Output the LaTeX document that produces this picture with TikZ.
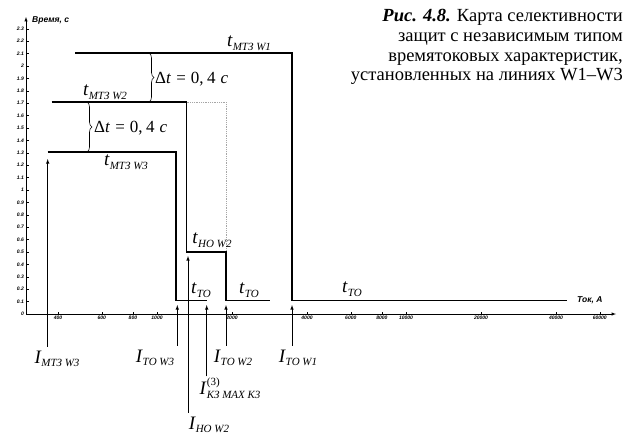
\documentclass[tikz,border=0pt]{standalone}
\usepackage{amsmath}
\usepackage{fontspec}
\setmainfont{Liberation Serif}
\setsansfont{Liberation Sans}
\usetikzlibrary{decorations.pathreplacing}

\newcommand{\sbs}[1]{\raisebox{-3.5pt}{\fontsize{11}{13}\selectfont\itshape #1}}
\newcommand{\lbl}[2]{{\fontsize{19}{22}\selectfont\itshape #1}\kern0.5pt\sbs{#2}}
\newcommand{\dtlbl}{Δ\textit{t}\hspace{0.3em}=\hspace{0.3em}0,\hspace{0.2em}4\hspace{0.3em}\textit{с}}

\begin{document}
\begin{tikzpicture}[x=1pt,y=-1pt,
  curve/.style={line width=1.1pt},
  arr/.style={-latex,line width=0.6pt},
  tick/.style={font=\sffamily\bfseries\itshape\fontsize{5}{6}\selectfont,inner sep=1pt},
  axlab/.style={font=\sffamily\bfseries\itshape\fontsize{8.5}{10}\selectfont,inner sep=0pt},
  lab/.style={inner sep=0pt},
  dt/.style={font=\fontsize{17}{19}\selectfont,inner sep=0pt,anchor=west},
  brc/.style={decorate,decoration={brace,amplitude=5pt},line width=0.6pt}]
  \useasboundingbox (0,0) rectangle (636,440);

  \draw[-latex,line width=0.5pt] (26,314) -- (616,314);
  \draw[-latex,line width=0.5pt] (26,314) -- (26,17);
  \node[axlab,anchor=west] (ylab) at (32,20) {Время, с};
  \node[axlab,anchor=west] (xlab) at (577,300) {Ток, А};
  \foreach \t [count=\i] in {0,0.1,0.2,0.3,0.4,0.5,0.6,0.7,0.8,0.9,1,1.1,1.2,1.3,1.4,1.5,1.6,1.7,1.8,1.9,2,2.1,2.2,2.3} {
    \pgfmathsetmacro\yy{314-124*\t}
    \draw[line width=0.4pt] (26,\yy) -- (28.5,\yy);
    \node[tick,anchor=east] (yt\i) at (25,\yy) {\t};
  }
  \foreach \v/\xx [count=\i] in {400/58,600/101.7,800/132.9,1000/157,2000/232,4000/307,6000/350.8,8000/381.9,10000/406,20000/481,40000/556,60000/599.7} {
    \draw[line width=0.4pt] (\xx,314) -- (\xx,312);
    \node[tick,anchor=north] (xt\i) at (\xx,315) {\v};
  }

  \draw[curve] (75,53) -- (292,53) -- (292,300.5) -- (567,300.5);
  \draw[gray!70,densely dotted,line width=0.8pt] (186.5,102) -- (226,102) -- (226,252);
  \draw[curve] (51.7,102) -- (186.5,102) -- (186.5,252) -- (226,252) -- (226,300.5) -- (270,300.5);
  \draw[curve] (47.7,152) -- (176,152) -- (176,300.5) -- (206.7,300.5);

  \draw[brc] (149,53) -- (149,102);
  \draw[brc] (87,102) -- (87,152);
  \node[dt] (dtone) at (155,79) {\dtlbl};
  \node[dt] (dttwo) at (94,128) {\dtlbl};

  \node[lab] (tMTZone) at (249,43) {\lbl{t}{МТЗ W1}};
  \node[lab] (tMTZtwo) at (105,92) {\lbl{t}{МТЗ W2}};
  \node[lab] (tMTZthree) at (126,162) {\lbl{t}{МТЗ W3}};
  \node[lab] (tHOtwo) at (212,240) {\lbl{t}{НО W2}};
  \node[lab] (tTOa) at (201,290) {\lbl{t}{ТО}};
  \node[lab] (tTOb) at (249,290) {\lbl{t}{ТО}};
  \node[lab] (tTOc) at (352,289) {\lbl{t}{ТО}};

  \coordinate (pMTZthree) at (47.7,159);
  \coordinate (pTOthree) at (177.3,305);
  \coordinate (pHOtwo) at (188,256);
  \coordinate (pKZ) at (206.7,305);
  \coordinate (pTOtwo) at (226,305);
  \coordinate (pTOone) at (292,305);

  \node[lab] (iMTZthree) at (57,359) {\lbl{I}{МТЗ W3}};
  \node[lab] (iTOthree) at (155,358) {\lbl{I}{ТО W3}};
  \node[lab] (iTOtwo) at (233,358) {\lbl{I}{ТО W2}};
  \node[lab] (iTOone) at (298,358) {\lbl{I}{ТО W1}};
  \node[lab] (iKZ) at (230,388) {{\fontsize{19}{22}\selectfont\itshape I}\kern1pt\rlap{\raisebox{9.5pt}{\fontsize{11}{13}\selectfont (3)}}\sbs{КЗ MAX К3}};
  \node[lab] (iHOtwo) at (209,425) {\lbl{I}{НО W2}};

  \draw[arr] (iMTZthree.north -| pMTZthree) ++(0,-4) -- (pMTZthree);
  \draw[arr] (iTOthree.north -| pTOthree) ++(0,-4) -- (pTOthree);
  \draw[arr] (iHOtwo.north -| pHOtwo) ++(0,-4) -- (pHOtwo);
  \draw[arr] (iKZ.north -| pKZ) ++(0,-1) -- (pKZ);
  \draw[arr] (iTOtwo.north -| pTOtwo) ++(0,-4) -- (pTOtwo);
  \draw[arr] (iTOone.north -| pTOone) ++(0,-4) -- (pTOone);

  \node[anchor=north east,align=right,inner sep=0pt,font=\fontsize{18.5}{19.8}\selectfont] (caption) at (623,9)
    {\textbf{\textit{Рис. 4.8.}} Карта селективности\\ защит с независимым типом\\ времятоковых характеристик,\\ установленных на линиях W1–W3};
\end{tikzpicture}
\end{document}
